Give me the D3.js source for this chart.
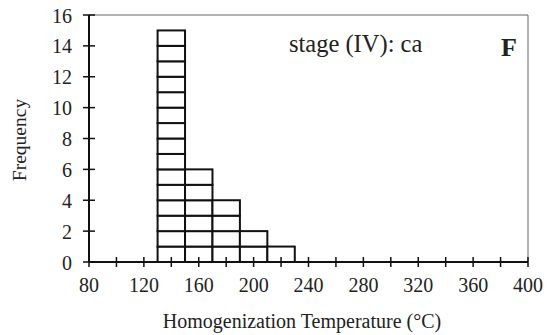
<!DOCTYPE html>
<html>
<head>
<meta charset="utf-8">
<script src="https://cdn.jsdelivr.net/npm/d3@7"></script>
<style>
  body { margin: 0; background: #fff; }
</style>
</head>
<body>
<div id="chart"></div>
<script>
// histogram bins (lower edge, upper edge) and counts
var binStart = [130, 150, 170, 190, 210];
var binEnd = [150, 170, 190, 210, 230];
var counts = [15, 6, 4, 2, 1];
var xTicks = [80, 120, 160, 200, 240, 280, 320, 360, 400];
var yTicks = [0, 2, 4, 6, 8, 10, 12, 14, 16];

var margin = { top: 15, right: 21, bottom: 73, left: 89 },
    width = 549 - margin.left - margin.right,
    height = 335 - margin.top - margin.bottom;

var serif = "'Liberation Serif', 'DejaVu Serif', 'Times New Roman', Times, serif";

var svg = d3.select("#chart")
    .append("svg")
    .attr("width", 549)
    .attr("height", 335)
    .attr("font-family", serif);
var inner = svg.append("g")
    .attr("transform", "translate(" + margin.left + "," + margin.top + ")");

var x = d3.scaleLinear().domain([80, 400]).range([0, width]);
var y = d3.scaleLinear().domain([0, 16]).range([height, 0]);

// frame: top and right in gray
inner.append("line")
    .attr("x1", 0).attr("x2", width).attr("y1", 0).attr("y2", 0)
    .style("stroke", "#666").style("stroke-width", 1);
inner.append("line")
    .attr("x1", width).attr("x2", width).attr("y1", 0).attr("y2", height)
    .style("stroke", "#666").style("stroke-width", 1);

// one cell per count unit
var cells = [];
counts.forEach(function (c, i) {
    for (var k = 0; k < c; k++) cells.push({ x0: binStart[i], x1: binEnd[i], k: k });
});
inner.selectAll(".cell")
    .data(cells)
    .enter()
    .append("rect")
    .attr("class", "cell")
    .attr("x", function (d) { return x(d.x0); })
    .attr("width", function (d) { return x(d.x1) - x(d.x0); })
    .attr("y", function (d) { return y(d.k + 1); })
    .attr("height", function (d) { return y(d.k) - y(d.k + 1); })
    .style("fill", "#fff")
    .style("stroke", "#111")
    .style("stroke-width", 2);

// X axis (major + minor ticks crossing the axis)
var xAxis = inner.append("g").attr("transform", "translate(0," + height + ")");
xAxis.append("line")
    .attr("x1", 0).attr("x2", width)
    .style("stroke", "#111").style("stroke-width", 2);
xAxis.selectAll(".xt")
    .data(d3.range(80, 401, 20))
    .enter().append("line")
    .attr("x1", function (d) { return x(d); })
    .attr("x2", function (d) { return x(d); })
    .attr("y1", -5).attr("y2", 5)
    .style("stroke", "#111").style("stroke-width", 1.5);
xAxis.selectAll(".xl")
    .data(xTicks)
    .enter().append("text")
    .attr("x", function (d) { return x(d); })
    .attr("y", 30)
    .attr("text-anchor", "middle")
    .style("font-size", "20px")
    .style("fill", "#222")
    .text(function (d) { return d; });

// Y axis
var yAxis = inner.append("g");
yAxis.append("line")
    .attr("y1", 0).attr("y2", height)
    .style("stroke", "#111").style("stroke-width", 2);
yAxis.selectAll(".yt")
    .data(yTicks)
    .enter().append("line")
    .attr("y1", function (d) { return y(d); })
    .attr("y2", function (d) { return y(d); })
    .attr("x1", -6).attr("x2", 6)
    .style("stroke", "#111").style("stroke-width", 1.5);
yAxis.selectAll(".yl")
    .data(yTicks)
    .enter().append("text")
    .attr("x", -17)
    .attr("y", function (d) { return y(d) + 7.5; })
    .attr("text-anchor", "end")
    .style("font-size", "20px")
    .style("fill", "#222")
    .text(function (d) { return d; });

// axis labels
svg.append("text")
    .attr("x", 302)
    .attr("y", 328)
    .attr("text-anchor", "middle")
    .style("font-size", "20px")
    .style("fill", "#222")
    .text("Homogenization Temperature (°C)");
svg.append("text")
    .attr("transform", "translate(26,140) rotate(-90)")
    .attr("text-anchor", "middle")
    .style("font-size", "19.5px")
    .style("fill", "#222")
    .text("Frequency");

// annotations
svg.append("text")
    .attr("x", 289).attr("y", 52)
    .style("font-size", "24.5px")
    .style("fill", "#222")
    .text("stage (IV): ca");
svg.append("text")
    .attr("x", 501).attr("y", 55.5)
    .style("font-size", "26px")
    .style("font-weight", "bold")
    .style("fill", "#222")
    .text("F");
</script>
</body>
</html>
